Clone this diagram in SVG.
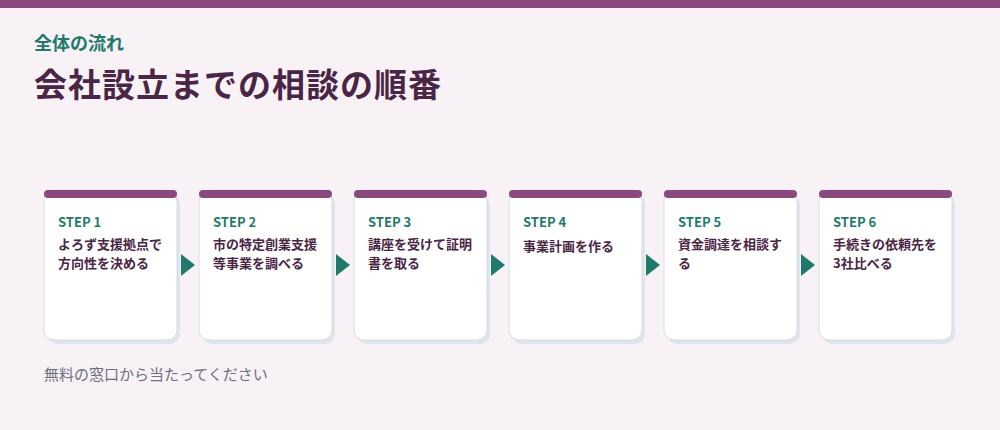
<svg xmlns="http://www.w3.org/2000/svg" width="1000" height="430" viewBox="0 0 1000 430">
<style>
.f{font-family:"Noto Sans CJK JP","Noto Sans",sans-serif}
.card{fill:#fff;stroke:#d6dde6;stroke-width:1}
.sh{fill:#dfe5ec}
.bar{fill:#8a4a7d}
.step{font-size:13px;font-weight:700;fill:#1f7a6c}
.body{font-size:13px;font-weight:700;fill:#4a2545}
.arr{fill:#1f7a6c}
</style>
<defs>
<g id="c">
<rect class="sh" x="3" y="4" width="133" height="150" rx="10"/>
<rect class="card" x="0" y="0" width="133" height="150" rx="10"/>
<rect class="bar" x="0" y="0" width="133" height="8" rx="4"/>
</g>
</defs>
<rect width="1000" height="430" fill="#f8f2f7"/>
<rect width="1000" height="8" fill="#8a4a7d"/>
<text class="f" x="34" y="50" font-size="18" font-weight="700" fill="#1f7a6c">全体の流れ</text>
<text class="f" x="34" y="97" font-size="33" font-weight="700" letter-spacing="1" fill="#4a2545">会社設立までの相談の順番</text>
<g id="n1"><use href="#c" x="44" y="190"/><text class="f step" x="58" y="227">STEP 1</text><text class="f body" x="58" y="249">よろず支援拠点で</text><text class="f body" x="58" y="268">方向性を決める</text></g>
<g id="n2"><use href="#c" x="199" y="190"/><text class="f step" x="213" y="227">STEP 2</text><text class="f body" x="213" y="249">市の特定創業支援</text><text class="f body" x="213" y="268">等事業を調べる</text></g>
<g id="n3"><use href="#c" x="354" y="190"/><text class="f step" x="368" y="227">STEP 3</text><text class="f body" x="368" y="249">講座を受けて証明</text><text class="f body" x="368" y="268">書を取る</text></g>
<g id="n4"><use href="#c" x="509" y="190"/><text class="f step" x="523" y="227">STEP 4</text><text class="f body" x="523" y="251" font-size="15">事業計画を作る</text></g>
<g id="n5"><use href="#c" x="664" y="190"/><text class="f step" x="678" y="227">STEP 5</text><text class="f body" x="678" y="249">資金調達を相談す</text><text class="f body" x="678" y="268">る</text></g>
<g id="n6"><use href="#c" x="819" y="190"/><text class="f step" x="833" y="227">STEP 6</text><text class="f body" x="833" y="249">手続きの依頼先を</text><text class="f body" x="833" y="268">3社比べる</text></g>
<g id="connectors">
<polygon class="arr" points="181,254 195,265 181,276"/>
<polygon class="arr" points="336,254 350,265 336,276"/>
<polygon class="arr" points="491,254 505,265 491,276"/>
<polygon class="arr" points="646,254 660,265 646,276"/>
<polygon class="arr" points="801,254 815,265 801,276"/>
</g>
<text class="f" x="44" y="380" font-size="15" fill="#6b6f80">無料の窓口から当たってください</text>
</svg>
